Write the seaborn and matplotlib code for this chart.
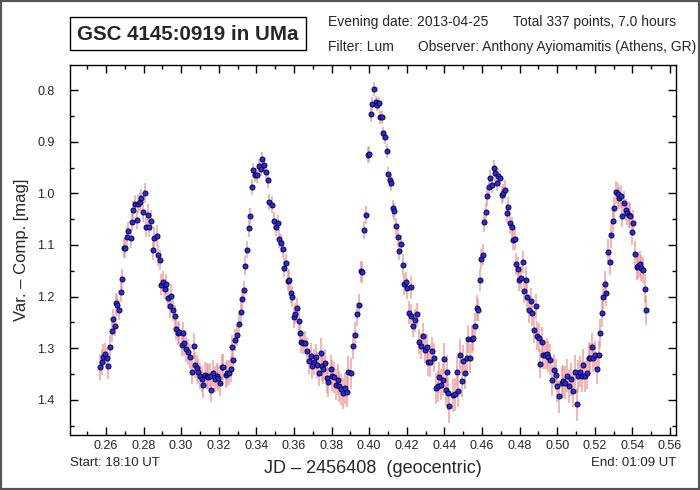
import pandas as pd
import seaborn as sns
import matplotlib.pyplot as plt
from matplotlib.patches import Rectangle
from matplotlib.ticker import MultipleLocator, FormatStrFormatter

# light curve, split in five stretches (JD - 2456408)
jd_a = [0.2568, 0.2577, 0.2586, 0.2595, 0.2604, 0.2612, 0.2621, 0.2630, 0.2639, 0.2648,
        0.2652, 0.2660, 0.2669, 0.2680, 0.2688, 0.2694, 0.2704, 0.2711, 0.2720, 0.2731,
        0.2738, 0.2745, 0.2754, 0.2765, 0.2772, 0.2779, 0.2787, 0.2798, 0.2807, 0.2813,
        0.2825, 0.2830, 0.2841, 0.2850, 0.2857, 0.2870, 0.2877, 0.2887, 0.2892, 0.2903,
        0.2914, 0.2922, 0.2928, 0.2940, 0.2947, 0.2956, 0.2965, 0.2972, 0.2981, 0.2990,
        0.3003, 0.3008, 0.3016, 0.3024, 0.3035, 0.3045, 0.3056, 0.3066, 0.3073, 0.3082,
        0.3091, 0.3102, 0.3109, 0.3117, 0.3127, 0.3135, 0.3144, 0.3153, 0.3158, 0.3171,
        0.3180, 0.3190, 0.3197, 0.3208, 0.3220]
mag_a = [1.337, 1.327, 1.316, 1.311, 1.319, 1.335, 1.297, 1.266, 1.244, 1.256,
         1.213, 1.217, 1.226, 1.191, 1.166, 1.106, 1.106, 1.084, 1.073, 1.087,
         1.055, 1.032, 1.021, 1.051, 1.021, 1.017, 1.009, 1.037, 0.999, 1.065,
         1.041, 1.065, 1.053, 1.109, 1.086, 1.082, 1.120, 1.129, 1.177, 1.171,
         1.185, 1.176, 1.202, 1.219, 1.198, 1.226, 1.238, 1.262, 1.271, 1.269,
         1.293, 1.271, 1.290, 1.301, 1.308, 1.316, 1.345, 1.295, 1.332, 1.338,
         1.345, 1.353, 1.360, 1.371, 1.351, 1.353, 1.356, 1.354, 1.380, 1.348,
         1.360, 1.354, 1.358, 1.367, 1.336]
err_a = [0.025, 0.025, 0.025, 0.022, 0.022, 0.025, 0.022, 0.022, 0.02, 0.02,
         0.02, 0.02, 0.02, 0.02, 0.02, 0.02, 0.02, 0.018, 0.018, 0.018,
         0.018, 0.018, 0.018, 0.018, 0.018, 0.018, 0.018, 0.018, 0.02, 0.02,
         0.02, 0.02, 0.02, 0.02, 0.02, 0.02, 0.02, 0.02, 0.02, 0.02,
         0.02, 0.02, 0.022, 0.022, 0.022, 0.022, 0.022, 0.022, 0.022, 0.022,
         0.022, 0.022, 0.025, 0.025, 0.025, 0.025, 0.025, 0.025, 0.025, 0.025,
         0.025, 0.025, 0.025, 0.025, 0.025, 0.025, 0.025, 0.025, 0.025, 0.025,
         0.025, 0.025, 0.025, 0.025, 0.025]

jd_b = [0.3224, 0.3237, 0.3245, 0.3254, 0.3263, 0.3272, 0.3277, 0.3286, 0.3296, 0.3307,
        0.3316, 0.3325, 0.3334, 0.3341, 0.3348, 0.3361, 0.3368, 0.3375, 0.3384, 0.3394,
        0.3405, 0.3414, 0.3423, 0.3432, 0.3442, 0.3453, 0.3462, 0.3469, 0.3486, 0.3494,
        0.3505, 0.3515, 0.3522, 0.3531, 0.3540, 0.3549, 0.3558, 0.3567, 0.3576, 0.3583,
        0.3592, 0.3599, 0.3608, 0.3615, 0.3626, 0.3633, 0.3640, 0.3649, 0.3660, 0.3671,
        0.3682, 0.3689, 0.3696, 0.3705, 0.3715, 0.3722, 0.3731, 0.3742, 0.3747, 0.3756,
        0.3767, 0.3774, 0.3782, 0.3795, 0.3804, 0.3814, 0.3823, 0.3832, 0.3841, 0.3851,
        0.3859, 0.3869, 0.3880, 0.3887]
mag_b = [1.337, 1.351, 1.348, 1.347, 1.340, 1.297, 1.322, 1.284, 1.275, 1.253,
         1.229, 1.205, 1.187, 1.140, 1.109, 1.068, 1.044, 0.988, 0.955, 0.964,
         0.965, 0.948, 0.953, 0.934, 0.946, 0.958, 0.974, 1.017, 1.022, 1.053,
         1.066, 1.057, 1.088, 1.096, 1.108, 1.144, 1.135, 1.169, 1.167, 1.193,
         1.201, 1.240, 1.233, 1.222, 1.248, 1.271, 1.287, 1.290, 1.289, 1.306,
         1.324, 1.315, 1.335, 1.326, 1.317, 1.332, 1.348, 1.309, 1.335, 1.341,
         1.329, 1.358, 1.366, 1.341, 1.353, 1.356, 1.371, 1.361, 1.374, 1.379,
         1.387, 1.377, 1.384, 1.345]
err_b = [0.025, 0.025, 0.025, 0.025, 0.025, 0.022, 0.022, 0.022, 0.02, 0.02,
         0.02, 0.018, 0.018, 0.018, 0.016, 0.016, 0.015, 0.015, 0.014, 0.014,
         0.014, 0.014, 0.014, 0.014, 0.014, 0.014, 0.015, 0.015, 0.016, 0.016,
         0.016, 0.016, 0.018, 0.018, 0.018, 0.018, 0.018, 0.02, 0.02, 0.02,
         0.02, 0.02, 0.02, 0.02, 0.022, 0.022, 0.022, 0.022, 0.022, 0.025,
         0.025, 0.025, 0.025, 0.025, 0.025, 0.025, 0.025, 0.028, 0.028, 0.028,
         0.028, 0.028, 0.028, 0.028, 0.03, 0.03, 0.03, 0.03, 0.03, 0.03,
         0.03, 0.03, 0.03, 0.03]

jd_c = [0.3906, 0.3915, 0.3924, 0.3937, 0.3946, 0.3955, 0.3964, 0.3974, 0.3983, 0.3992,
        0.4001, 0.4010, 0.4016, 0.4026, 0.4034, 0.4041, 0.4052, 0.4059, 0.4068, 0.4073,
        0.4084, 0.4093, 0.4102, 0.4111, 0.4118, 0.4125, 0.4134, 0.4144, 0.4151, 0.4160,
        0.4169, 0.4178, 0.4187, 0.4196, 0.4203, 0.4212, 0.4221, 0.4224, 0.4235, 0.4246,
        0.4256, 0.4263, 0.4274, 0.4288, 0.4297, 0.4306, 0.4314, 0.4325, 0.4334, 0.4346,
        0.4355, 0.4368, 0.4373, 0.4380, 0.4391, 0.4398, 0.4409, 0.4416, 0.4421, 0.4426]
mag_c = [1.348, 1.295, 1.274, 1.234, 1.216, 1.151, 1.153, 1.071, 1.042, 0.926,
         0.924, 0.847, 0.827, 0.798, 0.823, 0.828, 0.826, 0.853, 0.853, 0.884,
         0.891, 0.918, 0.963, 0.974, 0.980, 1.029, 1.035, 1.064, 1.085, 1.111,
         1.098, 1.138, 1.176, 1.172, 1.184, 1.231, 1.182, 1.237, 1.256, 1.246,
         1.234, 1.287, 1.295, 1.277, 1.303, 1.297, 1.326, 1.327, 1.306, 1.318,
         1.377, 1.374, 1.356, 1.371, 1.361, 1.320, 1.380, 1.345, 1.387, 1.412]
err_c = [0.03, 0.025, 0.025, 0.022, 0.022, 0.02, 0.02, 0.018, 0.018, 0.015,
         0.015, 0.014, 0.014, 0.014, 0.012, 0.012, 0.012, 0.012, 0.012, 0.012,
         0.014, 0.014, 0.014, 0.015, 0.015, 0.016, 0.016, 0.016, 0.018, 0.018,
         0.018, 0.02, 0.02, 0.02, 0.02, 0.022, 0.022, 0.022, 0.022, 0.022,
         0.022, 0.025, 0.025, 0.025, 0.025, 0.025, 0.028, 0.028, 0.028, 0.028,
         0.03, 0.03, 0.03, 0.03, 0.03, 0.03, 0.032, 0.032, 0.032, 0.032]

jd_d = [0.4444, 0.4455, 0.4465, 0.4474, 0.4485, 0.4494, 0.4501, 0.4511, 0.4518, 0.4527,
        0.4536, 0.4545, 0.4554, 0.4563, 0.4572, 0.4581, 0.4587, 0.4596, 0.4604, 0.4611,
        0.4621, 0.4628, 0.4638, 0.4644, 0.4654, 0.4662, 0.4670, 0.4679, 0.4687, 0.4696,
        0.4705, 0.4714, 0.4722, 0.4731, 0.4740, 0.4749, 0.4758, 0.4767, 0.4776, 0.4783,
        0.4791, 0.4799, 0.4808, 0.4817, 0.4824, 0.4833, 0.4842, 0.4850, 0.4859, 0.4866,
        0.4877, 0.4886, 0.4893, 0.4902, 0.4909, 0.4918, 0.4926, 0.4937, 0.4945, 0.4953,
        0.4962, 0.4973, 0.4983, 0.4994, 0.5001, 0.5010]
mag_d = [1.391, 1.389, 1.345, 1.383, 1.313, 1.364, 1.324, 1.348, 1.319, 1.282,
         1.319, 1.282, 1.280, 1.256, 1.222, 1.226, 1.168, 1.127, 1.119, 1.056,
         1.037, 1.006, 0.987, 0.971, 0.984, 0.951, 0.961, 0.980, 0.966, 0.971,
         1.003, 0.999, 0.993, 1.039, 1.027, 1.058, 1.066, 1.090, 1.089, 1.137,
         1.146, 1.168, 1.163, 1.133, 1.190, 1.168, 1.200, 1.226, 1.209, 1.232,
         1.264, 1.219, 1.276, 1.280, 1.330, 1.287, 1.313, 1.313, 1.311, 1.316,
         1.322, 1.362, 1.342, 1.351, 1.373, 1.393]
err_d = [0.032, 0.032, 0.03, 0.03, 0.03, 0.03, 0.03, 0.03, 0.03, 0.028,
         0.028, 0.028, 0.025, 0.025, 0.025, 0.022, 0.022, 0.02, 0.02, 0.018,
         0.018, 0.018, 0.016, 0.016, 0.016, 0.016, 0.016, 0.016, 0.016, 0.016,
         0.018, 0.018, 0.018, 0.018, 0.02, 0.02, 0.02, 0.02, 0.02, 0.022,
         0.022, 0.022, 0.022, 0.022, 0.022, 0.025, 0.025, 0.025, 0.025, 0.025,
         0.025, 0.025, 0.028, 0.028, 0.028, 0.028, 0.028, 0.028, 0.03, 0.03,
         0.03, 0.03, 0.03, 0.03, 0.032, 0.032]

jd_e = [0.5024, 0.5033, 0.5041, 0.5050, 0.5061, 0.5072, 0.5082, 0.5093, 0.5104, 0.5112,
        0.5121, 0.5132, 0.5139, 0.5148, 0.5157, 0.5168, 0.5174, 0.5183, 0.5192, 0.5201,
        0.5210, 0.5221, 0.5227, 0.5237, 0.5245, 0.5254, 0.5261, 0.5270, 0.5279, 0.5288,
        0.5295, 0.5304, 0.5311, 0.5322, 0.5330, 0.5337, 0.5346, 0.5355, 0.5364, 0.5372,
        0.5381, 0.5390, 0.5397, 0.5404, 0.5413, 0.5422, 0.5431, 0.5440, 0.5447, 0.5458,
        0.5467, 0.5474]
mag_e = [1.367, 1.364, 1.367, 1.353, 1.374, 1.360, 1.382, 1.345, 1.408, 1.354,
         1.345, 1.354, 1.332, 1.354, 1.348, 1.318, 1.319, 1.298, 1.318, 1.313,
         1.341, 1.313, 1.271, 1.231, 1.200, 1.175, 1.193, 1.113, 1.133, 1.081,
         1.053, 1.029, 0.998, 1.002, 1.009, 1.006, 1.044, 1.018, 1.032, 1.039,
         1.042, 1.043, 1.075, 1.058, 1.118, 1.142, 1.140, 1.137, 1.144, 1.148,
         1.185, 1.226]
err_e = [0.032, 0.032, 0.032, 0.032, 0.032, 0.032, 0.032, 0.032, 0.032, 0.032,
         0.03, 0.03, 0.03, 0.03, 0.03, 0.03, 0.03, 0.028, 0.028, 0.028,
         0.028, 0.028, 0.028, 0.028, 0.025, 0.025, 0.025, 0.025, 0.025, 0.025,
         0.022, 0.022, 0.022, 0.022, 0.022, 0.022, 0.022, 0.022, 0.022, 0.022,
         0.025, 0.025, 0.025, 0.025, 0.025, 0.025, 0.025, 0.025, 0.025, 0.025,
         0.028, 0.028]

df = pd.DataFrame({
    'jd': jd_a + jd_b + jd_c + jd_d + jd_e,
    'mag': mag_a + mag_b + mag_c + mag_d + mag_e,
    'err': err_a + err_b + err_c + err_d + err_e,
})

sns.set_style('ticks')
plt.rcParams['font.family'] = ['Liberation Sans', 'DejaVu Sans']

fig = plt.figure(figsize=(7, 4.9), dpi=100)
ax = fig.add_axes([0.1, 0.1122, 0.8657, 0.7551])

ax.errorbar(df.jd, df.mag, yerr=df.err, fmt='none', ecolor='#ec8585',
            elinewidth=1.4, alpha=0.6, zorder=1)
sns.scatterplot(data=df, x='jd', y='mag', ax=ax, s=13, color='#2e2ec0',
                edgecolor='#000066', linewidth=0.7, zorder=2, legend=False)

ax.set_xlim(0.2409, 0.5632)
ax.set_ylim(1.468, 0.7515)
ax.xaxis.set_major_locator(MultipleLocator(0.02))
ax.xaxis.set_minor_locator(MultipleLocator(0.01))
ax.xaxis.set_major_formatter(FormatStrFormatter('%.2f'))
ax.yaxis.set_major_locator(MultipleLocator(0.1))
ax.yaxis.set_minor_locator(MultipleLocator(0.05))
ax.yaxis.set_major_formatter(FormatStrFormatter('%.1f'))
ax.tick_params(which='both', direction='in', top=True, right=True, width=1, color='black')
ax.tick_params(which='major', length=6, labelsize=9)
ax.tick_params(which='minor', length=3)
ax.tick_params(axis='y', which='major', pad=11)
for s in ax.spines.values():
    s.set_color('black')
    s.set_linewidth(1)

ax.set_xlabel('JD – 2456408  (geocentric)', fontsize=13, labelpad=6)
ax.set_ylabel('Var. – Comp. [mag]', fontsize=12, labelpad=6)

# header
fig.patches.append(Rectangle((70 / 700, 1 - 50 / 490), 236 / 700, 33 / 490,
                             transform=fig.transFigure, fill=False,
                             edgecolor='black', linewidth=1))
fig.text(188 / 700, 1 - 34 / 490, 'GSC 4145:0919 in UMa', fontsize=14.8,
         fontweight='bold', ha='center', va='center')
fig.text(328 / 700, 1 - 22 / 490, 'Evening date: 2013-04-25', fontsize=10, va='center')
fig.text(676 / 700, 1 - 22 / 490, 'Total 337 points, 7.0 hours', fontsize=10,
         ha='right', va='center')
fig.text(328 / 700, 1 - 47 / 490, 'Filter: Lum', fontsize=10, va='center')
fig.text(696 / 700, 1 - 47 / 490, 'Observer: Anthony Ayiomamitis (Athens, GR)',
         fontsize=10, ha='right', va='center')

fig.text(70 / 700, 1 - 463 / 490, 'Start: 18:10 UT', fontsize=9.5, va='center')
fig.text(676 / 700, 1 - 463 / 490, 'End: 01:09 UT', fontsize=9.5, ha='right', va='center')

# grey frame round the whole picture
fig.patches.append(Rectangle((0, 0), 1, 1, transform=fig.transFigure, fill=False,
                             edgecolor='#555555', linewidth=3))

fig.savefig('out.png', dpi=100)
